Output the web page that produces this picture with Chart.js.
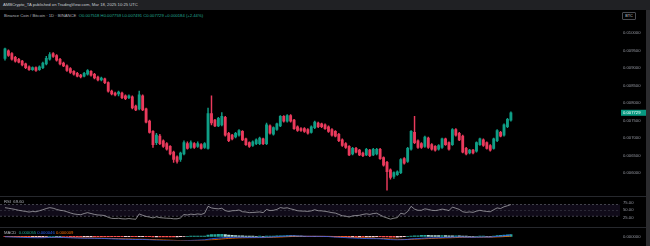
<!DOCTYPE html>
<html>
<head>
<meta charset="utf-8">
<title>BNB/BTC 1D</title>
<script src="https://cdn.jsdelivr.net/npm/chart.js@4.4.1/dist/chart.umd.min.js"></script>
<style>
  html, body { margin: 0; padding: 0; background: #000; }
  body { width: 650px; height: 246px; position: relative; overflow: hidden; font-family: 'Liberation Sans', Arial, sans-serif; }
  canvas { position: absolute; left: 0; }
  #topbar { position: absolute; left: 0; top: 0; width: 650px; height: 10px; background: #202124; }
  #topbar span { position: absolute; left: 3px; top: 2px; font-size: 4.2px; line-height: 5px; color: #c9ccd3; white-space: nowrap; }
  .legend { position: absolute; left: 4px; font-size: 4.2px; line-height: 5px; white-space: nowrap; color: #b2b5be; }
  .legend b { font-weight: normal; }
  #edge { position: absolute; left: 646px; top: 10px; width: 4px; height: 236px; background: #2b2b2e; }
  .sep { position: absolute; left: 0; width: 646px; height: 1px; background: #26282d; }
  #btc { position: absolute; left: 622px; top: 12px; width: 12px; height: 6px; border: 0.6px solid #4a4c52; border-radius: 1px; font-size: 3.8px; line-height: 6px; text-align: center; color: #c9ccd3; }
</style>
</head>
<body>
<div id="topbar"><span>AMBCrypto_TA published on TradingView.com, Mar 18, 2025 10:25 UTC</span></div>
<div class="legend" style="top:13px">Binance Coin / Bitcoin · 1D · BINANCE&nbsp;&nbsp;<b style="color:#22ab94">O0.007518 H0.007759 L0.007491 C0.007729 +0.000184 (+2.44%)</b></div>
<div id="btc">BTC</div>
<canvas id="price" width="646" height="176" style="top:20px"></canvas>
<div class="sep" style="top:196px"></div>
<canvas id="rsi" width="646" height="30" style="top:197px"></canvas>
<div class="sep" style="top:227px"></div>
<canvas id="macd" width="646" height="18" style="top:228px"></canvas>
<div class="legend" style="top:199px">RSI&nbsp;&nbsp;<b style="color:#b2b5be">69.60</b></div>
<div class="legend" style="top:230px">MACD&nbsp;&nbsp;<b style="color:#22ab94">0.000055</b>&nbsp;<b style="color:#2962ff">0.000046</b>&nbsp;<b style="color:#ff6d00">0.000009</b></div>
<div id="edge"></div>
<script>
// BNB/BTC daily candles, 21 Oct 2024 -> 18 Mar 2025 (148 sessions)
const open = [
  0.009285, 0.009499, 0.009419, 0.009312, 0.009258, 0.009205, 0.009124, 0.009044, 0.008964, 0.009017,
  0.008964, 0.009017, 0.009124, 0.009258, 0.009419, 0.009365, 0.009258, 0.009151, 0.009071, 0.008991,
  0.008910, 0.008857, 0.008803, 0.008776, 0.008830, 0.008910, 0.008830, 0.008750, 0.008669, 0.008696,
  0.008589, 0.008348, 0.008294, 0.008268, 0.008294, 0.008214, 0.008160, 0.008187, 0.007919, 0.007839,
  0.008214, 0.007839, 0.007491, 0.007196, 0.006875, 0.007062, 0.006929, 0.006848, 0.006768, 0.006607,
  0.006473, 0.006393, 0.006554, 0.006848, 0.006741, 0.006848, 0.006768, 0.006821, 0.006741, 0.006714,
  0.007705, 0.007518, 0.007357, 0.007384, 0.007598, 0.007143, 0.007089, 0.007036, 0.007089, 0.007196,
  0.006982, 0.006875, 0.006795, 0.006848, 0.006848, 0.006982, 0.006848, 0.007357, 0.007116, 0.007250,
  0.007357, 0.007625, 0.007491, 0.007652, 0.007518, 0.007330, 0.007277, 0.007277, 0.007250, 0.007170,
  0.007304, 0.007437, 0.007411, 0.007384, 0.007330, 0.007250, 0.007196, 0.007116, 0.006955, 0.006848,
  0.006768, 0.006554, 0.006714, 0.006661, 0.006580, 0.006527, 0.006661, 0.006527, 0.006554, 0.006688,
  0.006447, 0.006313, 0.006098, 0.005911, 0.005964, 0.006018, 0.006420, 0.006339, 0.006688, 0.007170,
  0.006929, 0.006848, 0.006768, 0.007009, 0.006821, 0.006768, 0.006688, 0.006741, 0.006982, 0.006875,
  0.006821, 0.007250, 0.007143, 0.007062, 0.006714, 0.006580, 0.006661, 0.006634, 0.006821, 0.006955,
  0.006875, 0.006795, 0.006714, 0.006929, 0.007170, 0.007089, 0.007330, 0.007518,
]
const high = [
  0.009580, 0.009526, 0.009446, 0.009339, 0.009285, 0.009231, 0.009151, 0.009071, 0.009044, 0.009044,
  0.009071, 0.009178, 0.009339, 0.009446, 0.009446, 0.009392, 0.009285, 0.009178, 0.009098, 0.009017,
  0.008937, 0.008883, 0.008830, 0.008883, 0.008964, 0.008937, 0.008857, 0.008776, 0.008750, 0.008723,
  0.008616, 0.008375, 0.008321, 0.008348, 0.008321, 0.008241, 0.008241, 0.008214, 0.007946, 0.008348,
  0.008241, 0.007866, 0.007518, 0.007223, 0.007143, 0.007116, 0.006955, 0.006875, 0.006795, 0.006634,
  0.006500, 0.006607, 0.006929, 0.006902, 0.006929, 0.006875, 0.006902, 0.006848, 0.006875, 0.007866,
  0.008214, 0.007545, 0.007598, 0.007732, 0.007625, 0.007170, 0.007116, 0.007170, 0.007250, 0.007223,
  0.007009, 0.006902, 0.006929, 0.006982, 0.007036, 0.007009, 0.007437, 0.007384, 0.007330, 0.007437,
  0.007652, 0.007652, 0.007678, 0.007678, 0.007545, 0.007357, 0.007304, 0.007304, 0.007277, 0.007357,
  0.007491, 0.007464, 0.007437, 0.007411, 0.007357, 0.007277, 0.007223, 0.007143, 0.006982, 0.006875,
  0.006795, 0.006741, 0.006741, 0.006688, 0.006607, 0.006714, 0.006688, 0.006714, 0.006714, 0.006714,
  0.006473, 0.006339, 0.006125, 0.006045, 0.006072, 0.006420, 0.006447, 0.006741, 0.007223, 0.007625,
  0.006955, 0.006875, 0.007062, 0.007036, 0.006848, 0.006795, 0.006821, 0.007009, 0.007009, 0.006902,
  0.007277, 0.007277, 0.007170, 0.007089, 0.006741, 0.006688, 0.006688, 0.006902, 0.007009, 0.006982,
  0.006902, 0.006821, 0.007009, 0.007250, 0.007196, 0.007411, 0.007571, 0.007759,
]
const low = [
  0.009231, 0.009339, 0.009231, 0.009178, 0.009151, 0.009071, 0.008991, 0.008937, 0.008937, 0.008910,
  0.008937, 0.008991, 0.009098, 0.009231, 0.009312, 0.009205, 0.009098, 0.009044, 0.008910, 0.008857,
  0.008803, 0.008750, 0.008723, 0.008750, 0.008803, 0.008776, 0.008696, 0.008642, 0.008642, 0.008562,
  0.008321, 0.008241, 0.008214, 0.008214, 0.008134, 0.008107, 0.008134, 0.007839, 0.007786, 0.007812,
  0.007786, 0.007437, 0.007143, 0.006741, 0.006821, 0.006821, 0.006741, 0.006661, 0.006527, 0.006313,
  0.006286, 0.006339, 0.006527, 0.006688, 0.006714, 0.006714, 0.006741, 0.006688, 0.006714, 0.006688,
  0.007384, 0.007330, 0.007330, 0.007357, 0.007062, 0.006902, 0.006955, 0.007009, 0.007062, 0.006929,
  0.006795, 0.006741, 0.006768, 0.006821, 0.006821, 0.006821, 0.006821, 0.007116, 0.007089, 0.007223,
  0.007330, 0.007464, 0.007464, 0.007464, 0.007250, 0.007196, 0.007196, 0.007170, 0.007116, 0.007143,
  0.007277, 0.007304, 0.007304, 0.007250, 0.007170, 0.007062, 0.007036, 0.006902, 0.006768, 0.006714,
  0.006500, 0.006527, 0.006580, 0.006500, 0.006473, 0.006500, 0.006473, 0.006500, 0.006527, 0.006393,
  0.006206, 0.005482, 0.005830, 0.005857, 0.005938, 0.005991, 0.006259, 0.006313, 0.006661, 0.006848,
  0.006714, 0.006714, 0.006741, 0.006714, 0.006661, 0.006634, 0.006661, 0.006714, 0.006795, 0.006661,
  0.006795, 0.007062, 0.006929, 0.006580, 0.006527, 0.006554, 0.006554, 0.006607, 0.006795, 0.006768,
  0.006688, 0.006634, 0.006688, 0.006902, 0.007036, 0.007062, 0.007304, 0.007491,
]
const close = [
  0.009553, 0.009365, 0.009258, 0.009205, 0.009178, 0.009098, 0.009017, 0.008964, 0.009017, 0.008937,
  0.009044, 0.009151, 0.009285, 0.009392, 0.009339, 0.009231, 0.009124, 0.009071, 0.008937, 0.008883,
  0.008830, 0.008776, 0.008750, 0.008857, 0.008937, 0.008803, 0.008723, 0.008669, 0.008723, 0.008589,
  0.008348, 0.008268, 0.008241, 0.008321, 0.008160, 0.008134, 0.008214, 0.007866, 0.007812, 0.008241,
  0.007812, 0.007464, 0.007170, 0.006821, 0.007089, 0.006848, 0.006768, 0.006688, 0.006554, 0.006393,
  0.006339, 0.006580, 0.006875, 0.006714, 0.006875, 0.006741, 0.006848, 0.006714, 0.006848, 0.007705,
  0.007437, 0.007357, 0.007571, 0.007625, 0.007089, 0.006929, 0.006982, 0.007143, 0.007223, 0.006955,
  0.006821, 0.006768, 0.006902, 0.006955, 0.007009, 0.006848, 0.007384, 0.007143, 0.007304, 0.007411,
  0.007625, 0.007491, 0.007652, 0.007491, 0.007277, 0.007223, 0.007223, 0.007196, 0.007143, 0.007330,
  0.007464, 0.007330, 0.007330, 0.007277, 0.007196, 0.007089, 0.007062, 0.006929, 0.006795, 0.006741,
  0.006527, 0.006714, 0.006607, 0.006527, 0.006500, 0.006688, 0.006500, 0.006688, 0.006688, 0.006420,
  0.006232, 0.006045, 0.005884, 0.006018, 0.006045, 0.006393, 0.006286, 0.006714, 0.007196, 0.006875,
  0.006741, 0.006741, 0.007036, 0.006741, 0.006688, 0.006661, 0.006795, 0.006982, 0.006821, 0.006688,
  0.007250, 0.007089, 0.006955, 0.006607, 0.006554, 0.006661, 0.006580, 0.006875, 0.006982, 0.006795,
  0.006714, 0.006661, 0.006982, 0.007223, 0.007062, 0.007384, 0.007545, 0.007729,
]

// RSI(14)
const rsi = [
  59, 57, 55, 52.8, 50, 48, 46, 44, 46, 45, 48.5,
  52, 56, 59, 57, 53, 50, 48.5,
  45, 41, 37.7, 36, 35, 39, 42,
  39, 36, 34, 33.4, 32, 26, 22.6,
  22, 23, 21, 20.5, 22, 20.5, 19.5, 37.7,
  33, 29, 26.9, 24, 28, 25, 24, 23, 22.6, 21,
  21, 24, 35.6, 34, 37, 35.5, 37.7, 36, 39.9,
  63.6, 58, 56, 55, 57, 49, 46, 48.5,
  49, 51, 45, 44.2, 42, 42.5, 43.5, 44.5, 42, 52.8,
  49, 50, 53, 59.3, 57, 58.5, 55, 52, 48.5,
  47.5, 47, 46.3, 48, 52, 48.5, 48, 46.5, 44.5,
  42, 40.5, 36, 31.3, 30, 27, 31, 32, 33, 36, 38, 36, 39, 40,
  34, 28, 24, 20, 23, 25,
  40, 37, 46, 63.6, 54, 50,
  50, 55, 53, 50, 49, 51, 54, 52, 49,
  61, 57, 53, 45, 43, 44.5, 43, 47,
  50, 47.5, 46, 45, 52, 58, 56, 62, 65.5, 69.6,
]

// MACD(12, 26, 9), in millionths of a BTC
const macdLine = [
  -10, -14, -18, -22, -26, -30, -34, -38, -40, -42, -43,
  -42, -38, -33, -31, -31, -33, -36, -40, -44, -48,
  -52, -55, -57, -58, -58, -60, -63, -65, -67, -72,
  -77, -81, -84, -87, -89, -91, -95, -99, -96, -96,
  -101, -108, -117, -120, -124, -128, -132, -136, -141, -145,
  -144, -138, -133, -128, -123, -119, -115, -111,
  -90, -74, -64, -54, -44, -38, -35, -33,
  -31, -28, -30, -33, -35, -35, -33, -33, -34, -26,
  -22, -17, -11, -1, 4, 10, 13, 13, 10,
  7, 4, 1, 0, 1, 0, -1, -3, -6,
  -16, -20, -26, -33, -39, -47, -51, -56, -60, -65,
  -67, -70, -71, -72, -76, -83, -92, -102, -108, -112,
  -108, -104, -94, -80, -74, -70,
  -60, -52, -48, -46, -44, -41, -36, -33, -32,
  -24, -20, -18, -20, -24, -26, -28, -26,
  -22, -21, -21, -22, -12, 0, 6, 18, 32, 46,
]
const signalLine = [
  -8, -9, -11, -13, -15, -17, -20, -23, -26, -29, -32,
  -34, -35, -35, -35, -34, -34, -34, -35, -37, -39,
  -41, -44, -47, -49, -51, -53, -55, -57, -59, -62,
  -64, -68, -71, -74, -77, -80, -83, -86, -88, -90,
  -92, -95, -99, -103, -107, -111, -115, -119, -123, -128,
  -131, -133, -133, -133, -131, -129, -126, -123,
  -117, -108, -100, -90, -81, -72, -65, -58,
  -53, -48, -45, -43, -41, -40, -39, -38, -37, -35,
  -32, -29, -26, -21, -16, -11, -6, -2, 0,
  1, 2, 2, 2, 2, 1, 1, 0, -1,
  -3, -6, -10, -14, -19, -24, -30, -35, -40, -45,
  -49, -53, -57, -60, -63, -67, -72, -78, -84, -89,
  -93, -95, -95, -92, -88, -84,
  -79, -74, -69, -64, -60, -56, -52, -48, -45,
  -41, -37, -33, -30, -29, -28, -28, -28,
  -27, -26, -25, -24, -22, -18, -14, -8, 0, 9,
]
const macdHist = [
  -2, -5, -7, -9, -11, -13, -14, -15, -14, -13, -11,
  -8, -3, 2, 4, 3, 1, -2, -5, -7, -9,
  -11, -11, -10, -9, -7, -7, -8, -8, -8, -10,
  -13, -13, -13, -13, -12, -11, -12, -13, -8, -6,
  -9, -13, -18, -17, -17, -17, -17, -17, -18, -17,
  -13, -5, 0, 5, 8, 10, 11, 12,
  40, 52, 58, 60, 62, 52, 42, 30,
  22, 20, 15, 10, 8, 5, 4, 5, 3, 9,
  10, 12, 15, 20, 20, 21, 19, 15, 10,
  6, 2, -1, -2, -1, -1, -2, -3, -5,
  -13, -14, -16, -19, -20, -23, -21, -21, -20, -20,
  -18, -17, -14, -12, -13, -16, -20, -24, -24, -23,
  -15, -9, 1, 12, 14, 14,
  28, 33, 32, 27, 24, 22, 24, 22, 19,
  17, 17, 15, 10, 5, 2, 0, 2,
  5, 5, 4, 2, 10, 27, 30, 39, 48, 55,
]

const priceTicks = [0.006, 0.0065, 0.007, 0.0075, 0.008, 0.0085, 0.009, 0.0095, 0.01]
const rsiTicks = [25, 50, 75]
const rsiUpper = 70
const rsiMid = 50
const rsiLower = 30

const up = '#0f9e86'
const down = '#ea3a5c'
const axisText = '#9598a1'
const tickFont = { family: 'Liberation Sans', size: 4.2 }

const idx = close.map((c, i) => i)
const candleColor = close.map((c, i) => (c >= open[i] ? up : down))
const histColor = macdHist.map((h, i) => {
  const prev = i > 0 ? macdHist[i - 1] : 0
  if (h >= 0) return h >= prev ? '#26a69a' : '#b2dfdb'
  return h <= prev ? '#ff5252' : '#ffcdd2'
})

// same time axis for all three panes, empty space on the right like TV
const xAxis = { type: 'linear', min: -1.45, max: 178.7, display: false, offset: false }

function rightAxis(min, max, ticks, fmt) {
  return {
    position: 'right',
    min: min,
    max: max,
    afterFit: (s) => { s.width = 26 },
    afterBuildTicks: (s) => { s.ticks = ticks.map((v) => ({ value: v })) },
    grid: { display: false, drawTicks: false },
    border: { display: false },
    ticks: { color: axisText, font: tickFont, padding: 3, callback: fmt },
  }
}

const common = {
  responsive: false,
  animation: false,
  layout: { padding: 0 },
  plugins: { legend: { display: false }, tooltip: { enabled: false } },
}

// last price tag on the price scale
const lastPriceTag = {
  id: 'lastPriceTag',
  afterDraw(chart) {
    const { ctx, chartArea, scales } = chart
    const last = close[close.length - 1]
    const y = scales.y.getPixelForValue(last)
    ctx.save()
    ctx.fillStyle = '#089981'
    ctx.fillRect(chartArea.right + 1, y - 3, 25, 6)
    ctx.fillStyle = '#fff'
    ctx.font = '4.2px "Liberation Sans"'
    ctx.textBaseline = 'middle'
    ctx.fillText(last.toFixed(6), chartArea.right + 3, y + 0.3)
    ctx.restore()
  },
}

new Chart(document.getElementById('price'), {
  type: 'bar',
  data: {
    datasets: [
      {
        data: idx.map((i) => ({ x: i, y: [low[i], high[i]] })),
        backgroundColor: candleColor,
        barThickness: 0.8,
        grouped: false,
        order: 2,
      },
      {
        data: idx.map((i) => ({ x: i, y: [open[i], close[i]] })),
        backgroundColor: candleColor,
        barThickness: 2.2,
        minBarLength: 0.8,
        grouped: false,
        order: 1,
      },
    ],
  },
  options: {
    ...common,
    scales: {
      x: xAxis,
      y: rightAxis(0.005509, 0.010222, priceTicks, (v) => v.toFixed(6)),
    },
  },
  plugins: [lastPriceTag],
})

// RSI band, 70 / 50 / 30
const rsiBands = {
  id: 'rsiBands',
  beforeDatasetsDraw(chart) {
    const { ctx, chartArea: a, scales } = chart
    const yUp = scales.y.getPixelForValue(rsiUpper)
    const yMid = scales.y.getPixelForValue(rsiMid)
    const yLo = scales.y.getPixelForValue(rsiLower)
    ctx.save()
    ctx.fillStyle = 'rgba(126, 87, 194, 0.13)'
    ctx.fillRect(a.left, yUp, a.right - a.left, yLo - yUp)
    ctx.lineWidth = 0.6
    ctx.setLineDash([2, 2])
    ctx.strokeStyle = '#6a6d78'
    ;[yUp, yLo].forEach((yy) => {
      ctx.beginPath()
      ctx.moveTo(a.left, yy)
      ctx.lineTo(a.right, yy)
      ctx.stroke()
    })
    ctx.strokeStyle = 'rgba(120, 123, 134, 0.45)'
    ctx.beginPath()
    ctx.moveTo(a.left, yMid)
    ctx.lineTo(a.right, yMid)
    ctx.stroke()
    ctx.restore()
  },
}

new Chart(document.getElementById('rsi'), {
  type: 'line',
  data: {
    datasets: [
      {
        data: idx.map((i) => ({ x: i, y: rsi[i] })),
        borderColor: '#b8b8bc',
        borderWidth: 0.7,
        pointRadius: 0,
        tension: 0,
      },
    ],
  },
  options: {
    ...common,
    scales: {
      x: xAxis,
      y: rightAxis(11.9, 76.5, rsiTicks, (v) => v.toFixed(2)),
    },
  },
  plugins: [rsiBands],
})

new Chart(document.getElementById('macd'), {
  type: 'bar',
  data: {
    datasets: [
      {
        data: idx.map((i) => ({ x: i, y: macdHist[i] })),
        backgroundColor: histColor,
        barThickness: 2.4,
        grouped: false,
        order: 3,
      },
      {
        type: 'line',
        data: idx.map((i) => ({ x: i, y: macdLine[i] })),
        borderColor: '#2962ff',
        borderWidth: 0.8,
        pointRadius: 0,
        order: 1,
      },
      {
        type: 'line',
        data: idx.map((i) => ({ x: i, y: signalLine[i] })),
        borderColor: '#ff6d00',
        borderWidth: 0.8,
        pointRadius: 0,
        order: 2,
      },
    ],
  },
  options: {
    ...common,
    scales: {
      x: xAxis,
      y: rightAxis(-128, 88, [0], (v) => (v / 1e6).toFixed(6)),
    },
  },
})
</script>
</body>
</html>
